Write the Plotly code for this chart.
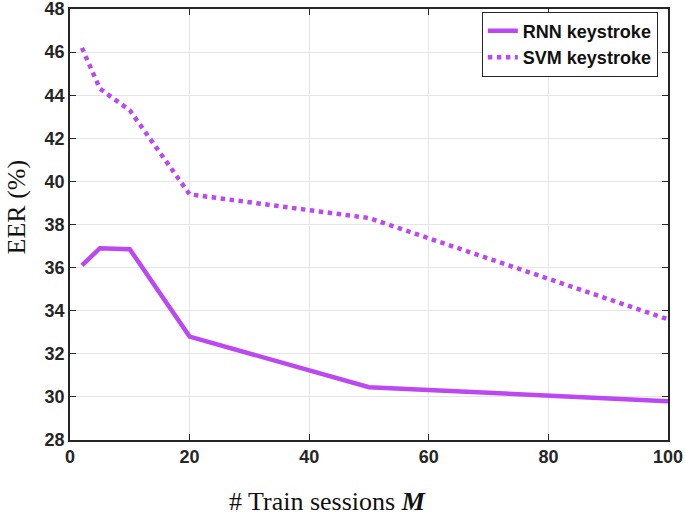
import plotly.graph_objects as go

sessions = [2, 5, 10, 20, 50, 100]
rnn_eer = [36.1, 36.9, 36.85, 32.8, 30.45, 29.8]
svm_eer = [46.2, 44.3, 43.3, 39.4, 38.3, 33.6]
x_ticks = [0, 20, 40, 60, 80, 100]
y_ticks = [28, 30, 32, 34, 36, 38, 40, 42, 44, 46, 48]

color = "#bb48f0"

fig = go.Figure()
fig.add_trace(go.Scatter(x=sessions, y=rnn_eer, mode="lines", name="<b>RNN keystroke</b>",
                         line=dict(color=color, width=4.5)))
fig.add_trace(go.Scatter(x=sessions, y=svm_eer, mode="lines", name="<b>SVM keystroke</b>",
                         line=dict(color=color, width=4.5, dash="dot")))

axis_common = dict(showgrid=True, gridcolor="#e3e6e6", gridwidth=1, automargin=False,
                   showline=True, linecolor="#262626", linewidth=1.5, mirror="ticks",
                   ticks="inside", ticklen=6, tickcolor="#262626", zeroline=False,
                   ticklabeloverflow="allow",
                   tickfont=dict(family="Liberation Sans, Arial", size=18, color="#262626"))

fig.update_layout(
    width=685, height=521,
    margin=dict(l=70, r=17, t=9, b=81),
    plot_bgcolor="white", paper_bgcolor="white",
    xaxis=dict(range=[0, 100], tickvals=x_ticks, ticktext=[f"<b>{v}</b>" for v in x_ticks], **axis_common),
    yaxis=dict(range=[28, 48], tickvals=y_ticks, ticktext=[f"<b>{v}</b>" for v in y_ticks], **axis_common),
    showlegend=True,
    legend=dict(x=0.983, y=0.994, xanchor="right", yanchor="top",
                bgcolor="white", bordercolor="#262626", borderwidth=1,
                font=dict(family="Liberation Sans, Arial", size=18, color="#111"),
                tracegroupgap=0, itemwidth=30),
    annotations=[
        dict(text="# Train sessions <i><b>M</b></i>", x=0.43, xref="paper", y=-0.143, yref="paper",
             xanchor="center", yanchor="middle", showarrow=False,
             font=dict(family="Liberation Serif, Times New Roman", size=26, color="#111")),
        dict(text="EER (%)", x=-0.09, xref="paper", y=0.54, yref="paper", textangle=-90,
             xanchor="center", yanchor="middle", showarrow=False,
             font=dict(family="Liberation Serif, Times New Roman", size=26, color="#111")),
    ],
)

fig.write_html("out.html", config={"displayModeBar": False},
               post_script="document.body.style.margin='0';")
